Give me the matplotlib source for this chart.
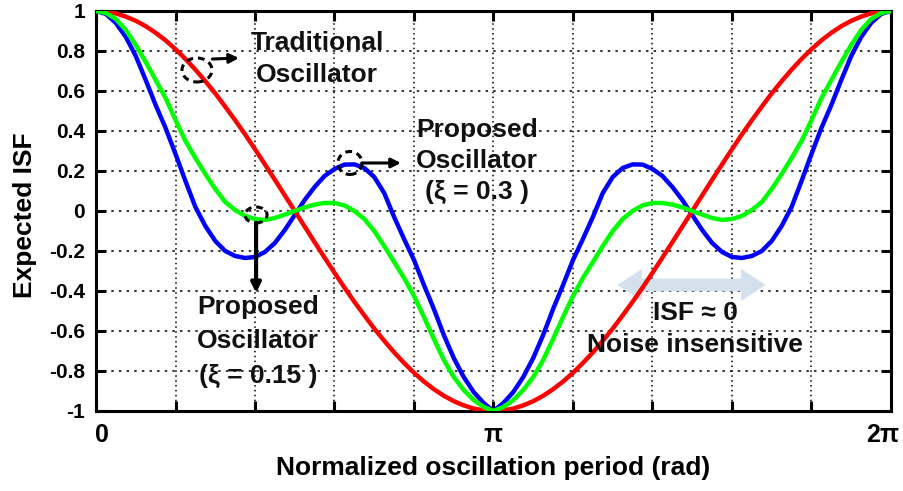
import numpy as np
import matplotlib
matplotlib.use("Agg")
import matplotlib.pyplot as plt
from matplotlib.patches import Ellipse, FancyArrowPatch
from matplotlib.transforms import ScaledTranslation

plt.rcParams['font.family'] = ['Liberation Sans', 'DejaVu Sans']
plt.rcParams['font.weight'] = 'bold'

# Normalized phase over one oscillation period (81 samples, 0 .. 2*pi)
phase = np.linspace(0.0, 2.0 * np.pi, 81)

# Expected ISF of the traditional oscillator
isf_traditional = [
    1.000, 0.997, 0.988, 0.972, 0.951, 0.924, 0.891, 0.853, 0.809, 0.760,
    0.707, 0.649, 0.588, 0.522, 0.454, 0.383, 0.309, 0.233, 0.156, 0.078,
    0.000, -0.078, -0.156, -0.233, -0.309, -0.383, -0.454, -0.522, -0.588, -0.649,
    -0.707, -0.760, -0.809, -0.853, -0.891, -0.924, -0.951, -0.972, -0.988, -0.997,
    -1.000,
    -0.997, -0.988, -0.972, -0.951, -0.924, -0.891, -0.853, -0.809, -0.760, -0.707,
    -0.649, -0.588, -0.522, -0.454, -0.383, -0.309, -0.233, -0.156, -0.078, 0.000,
    0.078, 0.156, 0.233, 0.309, 0.383, 0.454, 0.522, 0.588, 0.649, 0.707,
    0.760, 0.809, 0.853, 0.891, 0.924, 0.951, 0.972, 0.988, 0.997, 1.000,
]

# Expected ISF of the proposed oscillator, xi = 0.3
isf_xi_030 = [
    1.000, 0.985, 0.940, 0.870, 0.775, 0.655, 0.530, 0.415, 0.285, 0.150,
    0.020, -0.075, -0.150, -0.200, -0.225, -0.235, -0.230, -0.205, -0.160, -0.095,
    -0.020, 0.055, 0.120, 0.175, 0.210, 0.232, 0.233, 0.215, 0.170, 0.090,
    -0.030, -0.140, -0.245, -0.370, -0.490, -0.620, -0.735, -0.830, -0.905, -0.960,
    -1.000,
    -0.960, -0.905, -0.830, -0.735, -0.620, -0.490, -0.370, -0.245, -0.140, -0.030,
    0.090, 0.170, 0.215, 0.233, 0.232, 0.210, 0.175, 0.120, 0.055, -0.020,
    -0.095, -0.160, -0.205, -0.230, -0.235, -0.225, -0.200, -0.150, -0.075, 0.020,
    0.150, 0.285, 0.415, 0.530, 0.655, 0.775, 0.870, 0.940, 0.985, 1.000,
]

# Expected ISF of the proposed oscillator, xi = 0.15
isf_xi_015 = [
    1.000, 0.990, 0.960, 0.905, 0.830, 0.745, 0.655, 0.565, 0.455, 0.350,
    0.265, 0.185, 0.110, 0.045, 0.005, -0.025, -0.040, -0.045, -0.035, -0.018,
    0.000, 0.018, 0.032, 0.040, 0.040, 0.028, 0.000, -0.040, -0.100, -0.175,
    -0.255, -0.335, -0.425, -0.530, -0.640, -0.745, -0.830, -0.895, -0.945, -0.980,
    -1.000,
    -0.980, -0.945, -0.895, -0.830, -0.745, -0.640, -0.530, -0.425, -0.335, -0.255,
    -0.175, -0.100, -0.040, 0.000, 0.028, 0.040, 0.040, 0.032, 0.018, 0.000,
    -0.018, -0.035, -0.045, -0.040, -0.025, 0.005, 0.045, 0.110, 0.185, 0.265,
    0.350, 0.455, 0.565, 0.655, 0.745, 0.830, 0.905, 0.960, 0.990, 1.000,
]

x_major = [0.0, np.pi, 2.0 * np.pi]
x_major_labels = ['0', 'π', '2π']
y_ticks = [1.0, 0.8, 0.6, 0.4, 0.2, 0.0, -0.2, -0.4, -0.6, -0.8, -1.0]
y_tick_labels = ['1', '0.8', '0.6', '0.4', '0.2', '0', '-0.2', '-0.4', '-0.6', '-0.8', '-1']

fig = plt.figure(figsize=(9.04, 4.91), dpi=100)
ax = fig.add_axes([0.1062, 0.163, 0.8794, 0.8146])

curve_style = dict(lw=3.2, solid_capstyle='round', solid_joinstyle='round')
ax.plot(phase, isf_xi_030, color='#0000ff', zorder=3, **curve_style)
ax.plot(phase, isf_traditional, color='#ff0000', zorder=4, **curve_style)
ax.plot(phase, isf_xi_015, color='#00ff00', zorder=5, **curve_style)

ax.set_xlim(0, 2 * np.pi)
ax.set_ylim(-1, 1)
ax.set_xticks(x_major)
ax.set_xticklabels(x_major_labels)
ax.set_xticks(np.linspace(0, 2 * np.pi, 11), minor=True)
ax.set_yticks(y_ticks)
ax.set_yticklabels(y_tick_labels)

ax.grid(axis='x', which='both', color='black', lw=1.1, linestyle=(0, (1, 2.2)))
ax.grid(axis='y', which='major', color='black', lw=1.1, linestyle=(0, (1.6, 3.4)))
ax.set_axisbelow(True)

for s in ax.spines.values():
    s.set_linewidth(2.2)
ax.tick_params(which='both', direction='in', top=True, right=True,
               length=7, width=2.2, labelsize=15)
ax.tick_params(axis='x', pad=9, labelsize=18)
ax.tick_params(axis='y', pad=8)

# keep the end labels inside the figure
xlabels = ax.get_xticklabels()
xlabels[0].set_transform(xlabels[0].get_transform() + ScaledTranslation(4 / 72, 0, fig.dpi_scale_trans))
xlabels[-1].set_transform(xlabels[-1].get_transform() + ScaledTranslation(-6 / 72, 0, fig.dpi_scale_trans))

ax.set_xlabel('Normalized oscillation period (rad)', fontsize=19, fontweight='bold')
ax.set_ylabel('Expected ISF', fontsize=19, fontweight='bold')
ax.xaxis.set_label_coords(0.5, -0.112)
ax.yaxis.set_label_coords(-0.074, 0.49)

txt = dict(fontsize=19, fontweight='bold', color='#111111', ha='center',
           va='baseline', zorder=6)
arrow_kw = dict(arrowstyle='-|>', lw=2.2, color='black', mutation_scale=14,
                shrinkA=0, shrinkB=0)

# Traditional oscillator callout
ax.add_patch(Ellipse((0.798, 0.705), 0.237, 0.12, fill=False, ec='black',
                     lw=2.2, ls=(0, (2.2, 1.6)), zorder=6))
ax.annotate('', xy=(1.13, 0.765), xytext=(0.92, 0.76), arrowprops=arrow_kw, zorder=6)
ax.text(1.747, 0.805, 'Traditional', **txt)
ax.text(1.747, 0.645, 'Oscillator', **txt)

# Proposed oscillator, xi = 0.3
ax.add_patch(Ellipse((2.007, 0.24), 0.19, 0.115, fill=False, ec='black',
                     lw=2.2, ls=(0, (2.2, 1.6)), zorder=6))
ax.annotate('', xy=(2.41, 0.24), xytext=(2.10, 0.24), arrowprops=arrow_kw, zorder=6)
ax.text(3.011, 0.37, 'Proposed', **txt)
ax.text(3.011, 0.215, 'Oscillator', **txt)
ax.text(3.011, 0.06, '(ξ = 0.3 )', **txt)

# Proposed oscillator, xi = 0.15
ax.add_patch(Ellipse((1.265, -0.02), 0.174, 0.08, fill=False, ec='black',
                     lw=2.2, ls=(0, (2.2, 1.6)), zorder=6))
ax.annotate('', xy=(1.265, -0.41), xytext=(1.265, -0.06),
            arrowprops=dict(arrow_kw, lw=3.0), zorder=6)
ax.text(1.28, -0.515, 'Proposed', **txt)
ax.text(1.28, -0.685, 'Oscillator', **txt)
ax.text(1.28, -0.86, '(ξ = 0.15 )', **txt)

# Noise-insensitive region
mid = (4.126 + 5.287) / 2
for end in (4.126, 5.287):
    ax.add_patch(FancyArrowPatch((mid, -0.37), (end, -0.37),
                                 arrowstyle='simple,head_length=1.0,head_width=1.3,tail_width=0.5',
                                 mutation_scale=17, fc='#d4e0ec', ec='#d4e0ec',
                                 lw=0.6, shrinkA=0, shrinkB=0, zorder=2.5))
ax.text(4.734, -0.545, 'ISF ≈ 0', **txt)
ax.text(4.734, -0.705, 'Noise insensitive', **txt)

fig.savefig('out.png', dpi=100)
